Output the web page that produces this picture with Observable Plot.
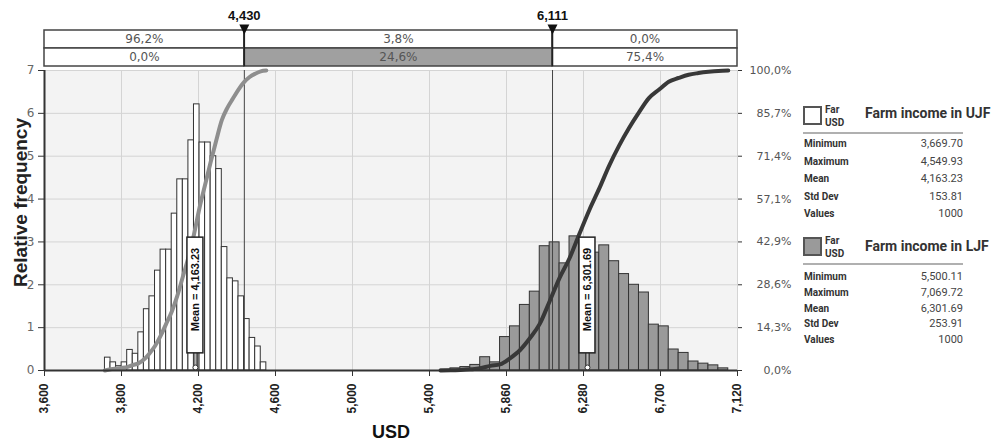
<!DOCTYPE html>
<html>
<head>
<meta charset="utf-8">
<script src="https://cdn.jsdelivr.net/npm/d3@7"></script>
<script src="https://cdn.jsdelivr.net/npm/@observablehq/plot@0.6"></script>
<style>
  body { margin: 0; background: #fff; }
  #chart { position: relative; width: 998px; height: 443px; overflow: hidden; }
  #chart svg { position: absolute; left: 0; top: 0; }
  .swatch { position: absolute; left: 803px; width: 15px; height: 15px; border: 2px solid #555; }
  .legend-note { position: absolute; left: 825px; white-space: nowrap;
    font: bold 10px Roboto, sans-serif; color: #333; line-height: 13px; }
  .stat-title { position: absolute; left: 865px; font: bold 14px Roboto, sans-serif; color: #333; white-space: nowrap; line-height: 16px; }
  .stat-rule { position: absolute; left: 803px; width: 160px; height: 2px; background: #b0b0b0; }
  .stat-row { position: absolute; left: 804px; width: 159px; height: 14px; line-height: 14px; font-family: Roboto, sans-serif; }
  .stat-row .k { position: absolute; left: 0; font-weight: bold; font-size: 10px; color: #333; }
  .stat-row .v { position: absolute; right: 0; font-size: 11px; color: #444; }
</style>
</head>
<body>
<div id="chart"></div>
<script>
// Relative frequency of each histogram bin (equal-width bins between min and max)
const ujfHeights = [0.30, 0.19, 0.10, 0.19, 0.48, 0.39, 0.89, 1.43, 1.73, 2.33, 2.82, 2.82, 3.66, 4.46, 4.46,
  5.37, 6.21, 5.32, 5.32, 5.00, 4.70, 2.88, 2.15, 2.08, 1.73, 1.20, 0.76, 0.56, 0.19];
const ljfHeights = [0.02, 0.05, 0.08, 0.13, 0.31, 0.19, 0.78, 1.03, 1.53, 1.84, 2.90, 2.99, 2.50, 3.13, 3.05,
  2.75, 2.92, 2.55, 2.25, 2.00, 1.82, 1.07, 1.03, 0.49, 0.41, 0.21, 0.16, 0.12, 0.05];

// Summary statistics: Minimum, Maximum, Mean, Std Dev, Values
const statLabels = ["Minimum", "Maximum", "Mean", "Std Dev", "Values"];
const ujfStats = [3669.70, 4549.93, 4163.23, 153.81, 1000];
const ljfStats = [5500.11, 7069.72, 6301.69, 253.91, 1000];
const seriesNames = ["Farm income in UJF", "Farm income in LJF"];
const legendNote = ["Far", "USD"];

// Delimiters and the share of each series on either side of them
const cutoffs = [4430, 6111];
const ujfShares = [96.2, 3.8, 0.0];
const ljfShares = [0.0, 24.6, 75.4];

// Axis ticks and their labels
const xTicks = [3340, 3760, 4180, 4600, 5020, 5440, 5860, 6280, 6700, 7120];
const xTickLabels = ["3,600", "3,800", "4,200", "4,600", "5,000", "5,400", "5,860", "6,280", "6,700", "7,120"];
const yTicks = [0, 1, 2, 3, 4, 5, 6, 7];
const cumTickLabels = ["0,0%", "14,3%", "28,6%", "42,9%", "57,1%", "71,4%", "85,7%", "100,0%"];

const W = 998, H = 443;
const ml = 44, mr = 261;
const xDomain = [xTicks[0], xTicks[xTicks.length - 1]];
const yMax = yTicks[yTicks.length - 1];
const meanBox = [0.4, 3.1];

const fmtThousands = d3.format(",");
const fmtMean = d3.format(",.2f");
const fmtPct = v => d3.format(".1f")(v).replace(".", ",") + "%";

function makeBins(heights, lo, hi) {
  const w = (hi - lo) / heights.length;
  return heights.map((h, i) => ({x1: lo + i * w, x2: lo + (i + 1) * w, h}));
}
function cumulative(bins) {
  const total = d3.sum(bins, d => d.h);
  let acc = 0;
  const pts = [{x: bins[0].x1, y: 0}];
  for (const b of bins) { acc += b.h; pts.push({x: b.x2, y: acc / total * yMax}); }
  return pts;
}

const ujfBins = makeBins(ujfHeights, ujfStats[0], ujfStats[1]);
const ljfBins = makeBins(ljfHeights, ljfStats[0], ljfStats[1]);
const means = [ujfStats[2], ljfStats[2]];

const axisFont = "'DejaVu Sans', Verdana, sans-serif";
const boldFont = "'Liberation Sans', Arial, sans-serif";

const main = Plot.plot({
  width: W, height: H,
  marginLeft: ml, marginRight: mr, marginTop: 70, marginBottom: 73,
  style: {background: "white", overflow: "visible"},
  x: {domain: xDomain},
  y: {domain: [0, yMax]},
  marks: [
    Plot.frame({fill: "#f3f3f3", stroke: null}),
    Plot.gridX(xTicks, {stroke: "#d4d4d4", strokeOpacity: 1}),
    Plot.gridY(yTicks, {stroke: "#d4d4d4", strokeOpacity: 1}),
    Plot.rectY(ujfBins, {x1: "x1", x2: "x2", y: "h", fill: "white", stroke: "#333", strokeWidth: 1, inset: 0}),
    Plot.rectY(ljfBins, {x1: "x1", x2: "x2", y: "h", fill: "#9a9a9a", stroke: "#333", strokeWidth: 1, inset: 0}),
    Plot.ruleX(cutoffs, {stroke: "#444", strokeWidth: 1}),
    Plot.line(cumulative(ujfBins), {x: "x", y: "y", stroke: "#8e8e8e", strokeWidth: 4, curve: "monotone-x"}),
    Plot.line(cumulative(ljfBins), {x: "x", y: "y", stroke: "#383838", strokeWidth: 4, curve: "monotone-x"}),
    // mean pins and labels
    Plot.ruleX(means, {x: d => d, y1: 0, y2: meanBox[0], stroke: "#444", strokeWidth: 5}),
    Plot.ruleX(means, {x: d => d, y1: 0, y2: meanBox[0], stroke: "#b5b5b5", strokeWidth: 2}),
    Plot.dot(means, {x: d => d, y: 0, dy: -3, r: 2.5, fill: "white", stroke: "#333", strokeWidth: 1}),
    Plot.rect(means, {x1: d => d, x2: d => d, y1: meanBox[0], y2: meanBox[1], insetLeft: -8, insetRight: -8,
      fill: "white", stroke: "#222", strokeWidth: 1.5}),
    Plot.text(means, {x: d => d, y: (meanBox[0] + meanBox[1]) / 2, dy: -6, rotate: -90,
      text: d => `Mean = ${fmtMean(d)}`, fontFamily: boldFont, fontWeight: "bold", fontSize: 11, fill: "#111"}),
    // axes
    Plot.ruleY([0], {stroke: "#333", strokeWidth: 2}),
    Plot.ruleX([xDomain[0]], {stroke: "#333", strokeWidth: 2}),
    Plot.axisX(xTicks, {anchor: "bottom", tickFormat: (d, i) => xTickLabels[i], tickRotate: -90,
      tickSize: 6, tickPadding: 7, stroke: "#333", fill: "#222", fontFamily: boldFont, fontWeight: "bold",
      fontSize: 12, label: null}),
    Plot.axisY(yTicks, {anchor: "left", tickSize: 6, tickPadding: 4, stroke: "#333", fill: "#666",
      fontFamily: axisFont, fontSize: 12, label: null}),
    Plot.axisY(yTicks, {anchor: "right", tickFormat: (d, i) => cumTickLabels[i], tickSize: 4, tickPadding: 50,
      textAnchor: "end", stroke: "#333", fill: "#555", fontFamily: axisFont, fontSize: 11, label: null}),
    Plot.text(["Relative frequency"], {frameAnchor: "left", dx: -24, dy: -18, rotate: -90, text: d => d,
      textAnchor: "middle", lineAnchor: "middle",
      fontFamily: boldFont, fontWeight: "bold", fontSize: 19, fill: "#222"}),
    Plot.text(["USD"], {frameAnchor: "bottom", dy: 62, text: d => d, textAnchor: "middle", lineAnchor: "middle",
      fontFamily: boldFont, fontWeight: "bold", fontSize: 18, fill: "#111"})
  ]
});

// Band above the histogram: share of each series between the delimiters
const edges = [xDomain[0], ...cutoffs, xDomain[1]];
const bandCells = [];
[["UJF", ujfShares], ["LJF", ljfShares]].forEach(([row, shares]) => {
  shares.forEach((s, i) => bandCells.push({
    row, x1: edges[i], x2: edges[i + 1], share: s,
    fill: row === "LJF" && i === 1 ? "#a0a0a0" : "white"
  }));
});

const downTriangle = {
  draw(ctx, size) {
    const s = Math.sqrt(size / Math.PI);
    ctx.moveTo(-s, -s); ctx.lineTo(s, -s); ctx.lineTo(0, s); ctx.closePath();
  }
};

const band = Plot.plot({
  width: W, height: 70,
  marginLeft: ml, marginRight: mr, marginTop: 29, marginBottom: 4,
  style: {background: "transparent", overflow: "visible"},
  x: {domain: xDomain, axis: null},
  y: {domain: ["UJF", "LJF"], padding: 0, axis: null},
  color: {type: "identity"},
  marks: [
    Plot.barX(bandCells, {x1: "x1", x2: "x2", y: "row", fill: "fill", stroke: "#444", strokeWidth: 1.5, inset: 0}),
    Plot.text(bandCells, {x: d => (d.x1 + d.x2) / 2, y: "row", text: d => fmtPct(d.share),
      fill: "#555", fontFamily: axisFont, fontSize: 12}),
    Plot.ruleX(cutoffs, {stroke: "#222", strokeWidth: 1.5}),
    Plot.dot(cutoffs, {x: d => d, frameAnchor: "top", symbol: downTriangle, r: 5, fill: "#111", stroke: null}),
    Plot.text(cutoffs, {x: d => d, frameAnchor: "top", dy: -14, lineAnchor: "middle", text: d => fmtThousands(d),
      fontFamily: boldFont, fontWeight: "bold", fontSize: 13, fill: "#111"})
  ]
});

const chart = document.getElementById("chart");
chart.appendChild(main);
chart.appendChild(band);

// Statistics panels to the right of the plot
const fmtStat = (v, i) => i === 4 ? String(v) : fmtMean(v);
const panels = [
  {name: seriesNames[0], stats: ujfStats, fill: "white", swatchTop: 106, titleTop: 105, ruleTop: 132, rows: [144, 161.5, 179, 196.5, 214]},
  {name: seriesNames[1], stats: ljfStats, fill: "#9a9a9a", swatchTop: 237, titleTop: 238, ruleTop: 263, rows: [277, 293, 308.5, 324, 340]}
];
const root = d3.select(chart);
for (const p of panels) {
  root.append("div").attr("class", "swatch").style("top", p.swatchTop + "px").style("background", p.fill);
  root.append("div").attr("class", "legend-note").style("top", (p.swatchTop - 3) + "px")
    .html(legendNote.join("<br>"));
  root.append("div").attr("class", "stat-title").style("top", p.titleTop + "px").text(p.name);
  root.append("div").attr("class", "stat-rule").style("top", p.ruleTop + "px");
  statLabels.forEach((label, i) => {
    const row = root.append("div").attr("class", "stat-row").style("top", (p.rows[i] - 7) + "px");
    row.append("span").attr("class", "k").text(label);
    row.append("span").attr("class", "v").text(fmtStat(p.stats[i], i));
  });
}
</script>
</body>
</html>
